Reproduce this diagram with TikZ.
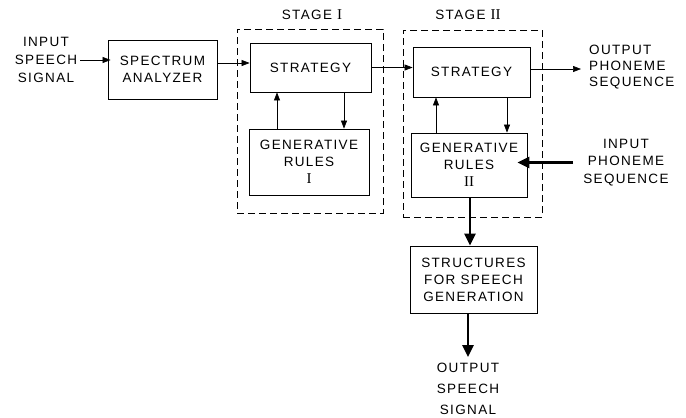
\documentclass[tikz,border=0pt]{standalone}
\usepackage{fontspec}
\setmainfont{Liberation Sans}[LetterSpace=10]
\newfontfamily\romfont{Liberation Serif}
\usetikzlibrary{arrows.meta}
\begin{document}
\begin{tikzpicture}[x=1pt,y=-1pt,
  txt/.style={font=\fontsize{13.5}{17}\selectfont, align=center, inner sep=0pt},
  box/.style={txt, draw, line width=0.8pt},
  dashbox/.style={draw, line width=0.7pt, dash pattern=on 7pt off 4pt},
  arr/.style={-{Triangle[length=8pt,width=6pt]}, line width=0.7pt},
  bigarr/.style={-{Triangle[length=12pt,width=11pt]}, line width=2.8pt}]
\useasboundingbox (0,0) rectangle (686,418);
% stage frames
\node[dashbox, minimum width=146pt, minimum height=184pt] (st1) at (310,121) {};
\node[dashbox, minimum width=139pt, minimum height=187pt] (st2) at (472.5,123.5) {};
\node[txt] (st1l) at (312,15) {STAGE {\romfont\fontsize{15}{17}\selectfont I}};
\node[txt] (st2l) at (468,15) {STAGE {\romfont\fontsize{15}{17}\selectfont II}};
% boxes
\node[box, minimum width=109pt, minimum height=59pt] (spec) at (162.5,69.5) {SPECTRUM\\ANALYZER};
\node[box, minimum width=121pt, minimum height=49pt] (strat1) at (310.5,67.5) {STRATEGY};
\node[box, minimum width=120pt, minimum height=66pt] (gen1) at (309,162) {GENERATIVE\\RULES\\{\romfont\fontsize{15}{17}\selectfont I}};
\node[box, minimum width=117pt, minimum height=50pt] (strat2) at (471.5,72) {STRATEGY};
\node[box, minimum width=116pt, minimum height=64pt] (gen2) at (469,165) {GENERATIVE\\RULES\\{\romfont\fontsize{15}{17}\selectfont II}};
\node[box, minimum width=127pt, minimum height=67pt] (struct) at (473.5,279.5) {STRUCTURES\\FOR SPEECH\\GENERATION};
% labels
\node[txt, font=\fontsize{13.5}{18}\selectfont] (inspeech) at (46,60) {INPUT\\SPEECH\\SIGNAL};
\node[txt, align=left, anchor=west, font=\fontsize{13.5}{16}\selectfont] (outph) at (589,67) {OUTPUT\\PHONEME\\SEQUENCE};
\node[txt, font=\fontsize{13.5}{17.5}\selectfont] (inph) at (626,162.5) {INPUT\\PHONEME\\SEQUENCE};
\node[txt, font=\fontsize{13.5}{21}\selectfont] (outsp) at (468,389) {OUTPUT\\SPEECH\\SIGNAL};
% connectors
\draw[arr] ([xshift=3pt]inspeech.east) -- ([xshift=3pt]inspeech.east -| spec.west);
\draw[arr] ([yshift=4.5pt]strat1.west -| spec.east) -- ([yshift=4.5pt]strat1.west);
\draw[arr] (strat1.east) -- (strat1.east -| strat2.west);
\draw[arr] ([yshift=3pt]strat2.east) -- ([yshift=3pt,xshift=-8pt]strat2.east -| outph.west);
\draw[arr] ([xshift=-32pt]gen1.north) -- ([xshift=-32pt]gen1.north |- strat1.south);
\draw[arr] ([xshift=33.5pt]strat1.south) -- ([xshift=33.5pt]strat1.south |- gen1.north);
\draw[arr] ([xshift=-33pt]gen2.north) -- ([xshift=-33pt]gen2.north |- strat2.south);
\draw[arr] ([xshift=35.5pt]strat2.south) -- ([xshift=35.5pt]strat2.south |- gen2.north);
\draw[bigarr] ([xshift=-10pt]inph.west) -- ([xshift=-10pt]inph.west -| gen2.east);
\draw[bigarr] ([xshift=1pt]gen2.south) -- ([xshift=1pt]gen2.south |- struct.north);
\draw[bigarr] (struct.south -| outsp.north) -- ([yshift=6pt]outsp.north);
\end{tikzpicture}
\end{document}
